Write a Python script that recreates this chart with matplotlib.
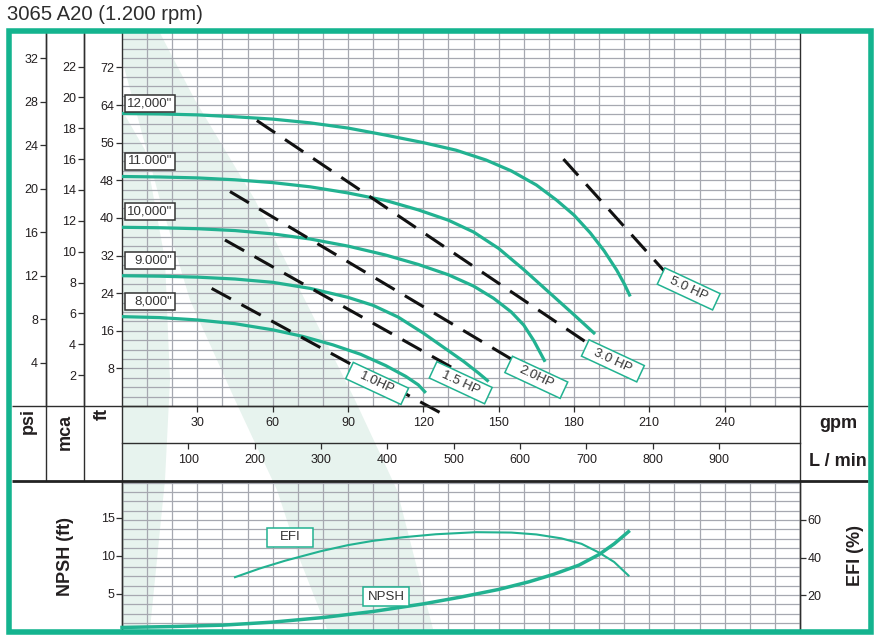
import numpy as np
import matplotlib
matplotlib.use("Agg")
import matplotlib.pyplot as plt
from matplotlib.patches import Rectangle, Polygon
from matplotlib.transforms import Affine2D, ScaledTranslation

plt.rcParams['font.family'] = ['Liberation Sans', 'DejaVu Sans']

# =========================
# data
# =========================
# head curves per impeller diameter: flow (gpm) / head (ft)
q_12 = [0, 15, 30, 45, 60, 75, 90, 105, 120, 133, 145, 155, 165, 173, 180, 186.5, 192, 197, 200, 202.4]
h_12 = [62.2, 62.1, 61.9, 61.5, 61.0, 60.2, 59.1, 57.6, 56.0, 54.4, 52.3, 50.0, 47.0, 43.8, 40.6,
        36.8, 33.0, 28.9, 26.0, 23.3]
q_11 = [0, 15, 30, 45, 60, 75, 90, 105, 118, 130, 140, 150, 160, 170, 180, 188.4]
h_11 = [48.8, 48.7, 48.5, 48.1, 47.5, 46.6, 45.3, 43.7, 41.7, 39.5, 37.0, 33.5, 29.0, 24.2, 19.4, 15.3]
q_10 = [0, 15, 30, 45, 60, 75, 90, 105, 118, 130, 140, 148, 155, 160, 164, 168.5]
h_10 = [38.0, 37.9, 37.7, 37.3, 36.6, 35.5, 34.0, 32.1, 30.1, 27.9, 25.5, 22.9, 20.0, 17.2, 13.9, 9.4]
q_9 = [0, 15, 30, 45, 60, 75, 90, 100, 110, 120, 128, 136, 142, 146]
h_9 = [27.7, 27.6, 27.4, 27.0, 26.3, 25.0, 23.1, 21.4, 18.9, 15.5, 12.5, 9.5, 7.0, 5.2]
q_8 = [0, 15, 30, 45, 60, 72, 84, 95, 105, 113, 118, 121]
h_8 = [19.0, 18.8, 18.3, 17.5, 16.2, 14.8, 13.0, 11.0, 8.6, 6.3, 4.5, 2.8]

diam_flows = [q_12, q_11, q_10, q_9, q_8]
diam_heads = [h_12, h_11, h_10, h_9, h_8]
diam_labels = ['12,000"', '11.000"', '10,000"', '9.000"', '8,000"']

# power lines (straight, dashed)
hp_labels = ['1.0HP', '1.5 HP', '2.0HP', '3.0 HP', '5.0 HP']
hp_q_start = [35.7, 41.0, 43.0, 53.7, 175.8]
hp_h_start = [25.0, 35.3, 45.6, 60.7, 52.5]
hp_q_end = [127.0, 132.0, 160.0, 192.0, 221.0]
hp_h_end = [-1.5, 8.0, 8.4, 11.0, 25.7]

# efficiency (%) and NPSH (ft)
q_efi = [45, 55, 65, 79, 90, 100, 112, 125, 141, 155, 165, 175, 183, 190, 196, 201.7]
efi = [29.5, 34.2, 38.3, 43.3, 46.6, 48.9, 50.8, 52.4, 53.5, 53.3, 52.3, 50.2, 47.3, 42.6, 37.6, 30.4]
q_npsh = [0, 20, 40, 60, 80, 100, 120, 135, 150, 162, 172, 182, 190, 196, 201.7]
npsh = [0.6, 0.72, 0.9, 1.3, 1.9, 2.7, 3.7, 4.6, 5.6, 6.6, 7.6, 8.8, 10.2, 11.6, 13.2]

gpm_ticks = [30, 60, 90, 120, 150, 180, 210, 240]
lpm_ticks = [100, 200, 300, 400, 500, 600, 700, 800, 900]
ft_ticks = [8, 16, 24, 32, 40, 48, 56, 64, 72]
psi_ticks = [4, 8, 12, 16, 20, 24, 28, 32]
mca_ticks = [2, 4, 6, 8, 10, 12, 14, 16, 18, 20, 22]
npsh_ticks = [5, 10, 15]
efi_ticks = [20, 40, 60]

# =========================
# layout (pixels) and styles
# =========================
W, H = 881, 640
X0, X1 = 122, 800
Y_TOP, Y_HEAD0, Y_LPM, Y_SPLIT, Y_BOT = 31, 406, 443, 481, 631
PX_GPM, PX_FT = 2.511, 4.703
NPSH0_PX, PX_NPSH = 632.0, 7.6
EFI0_PX, PX_EFI = 632.5, 1.875

TEAL = '#22b291'
FRAME = '#14b48f'
GRID = '#a6a8b0'
DARK = '#2e2e2e'
TXT = '#231f20'
WASH = '#e7f3ee'

fig = plt.figure(figsize=(W / 100, H / 100), dpi=100)
fig.patch.set_facecolor('white')


def frac_box(left, top, right, bottom):
    return [left / W, 1 - bottom / H, (right - left) / W, (bottom - top) / H]


def label_box(ax, x, y, text, w, h, angle, ec, fs=9.5, trans=None):
    base = ax.transData if trans is None else trans
    tr = Affine2D().rotate_deg(angle) + ScaledTranslation(x, y, base)
    ax.add_patch(Rectangle((-w / 2, -h / 2), w, h, transform=tr, fc='white',
                           ec=ec, lw=1.1, zorder=8, clip_on=False))
    ax.text(x, y, text, transform=base, rotation=angle, rotation_mode='anchor',
            ha='center', va='center', fontsize=fs, color='#333333', zorder=9)


# background wash (decoration)
bg = fig.add_axes([0, 0, 1, 1], zorder=0)
bg.set_xlim(0, W)
bg.set_ylim(H, 0)
bg.axis('off')
band_a = [(160, 33), (195, 100), (255, 200), (305, 300), (355, 400), (397, 490), (415, 560),
          (433, 629), (327, 629), (300, 560), (277, 490), (235, 400), (190, 300), (160, 200),
          (133, 100), (122, 60), (122, 33)]
band_b = [(122, 110), (145, 150), (165, 260), (170, 380), (165, 480), (150, 629), (122, 629)]
for band in (band_a, band_b):
    bg.add_patch(Polygon(band, closed=True, fc=WASH, ec='none'))

# =========================
# head chart
# =========================
ax = fig.add_axes(frac_box(X0, Y_TOP, X1, Y_HEAD0), zorder=2)
ax.set_facecolor('none')
ax.set_xlim(0, (X1 - X0) / PX_GPM)
ax.set_ylim(0, (Y_HEAD0 - Y_TOP) / PX_FT)

for q in np.arange(10, 270, 10):
    ax.axvline(q, color=GRID, lw=0.9, zorder=1)
for hh in np.arange(2, 80, 2):
    ax.axhline(hh, color=GRID, lw=0.9, zorder=1)

for q, hh in zip(diam_flows, diam_heads):
    ax.plot(q, hh, color=TEAL, lw=2.3, solid_capstyle='butt', solid_joinstyle='round', zorder=4)

for qs, hs, qe, he in zip(hp_q_start, hp_h_start, hp_q_end, hp_h_end):
    ax.plot([qs, qe], [hs, he], color='#111111', lw=2.2, dashes=(7.2, 3.9),
            zorder=5, clip_on=False)

# diameter labels (fixed width boxes near the y axis)
lift = [2.1, 3.2, 3.4, 3.2, 3.2]
for hh, lab, dl in zip(diam_heads, diam_labels, lift):
    label_box(ax, 11.2, hh[0] + dl, '', 50, 17, 0, '#333333')
    ax.annotate(lab, xy=(11.2, hh[0] + dl), xytext=(22, 0), textcoords='offset pixels',
                ha='right', va='center', fontsize=9.5, color='#333333', zorder=9)

# power labels
hp_lab_q = [101.6, 134.9, 165.0, 195.5, 225.7]
hp_lab_h = [4.8, 4.95, 6.1, 9.6, 24.9]
for lab, lq, lh in zip(hp_labels, hp_lab_q, hp_lab_h):
    label_box(ax, lq, lh, lab, 61, 18, -25, TEAL)

ax.set_xticks(gpm_ticks)
ax.set_yticks(ft_ticks)
ax.tick_params(axis='x', direction='out', length=4.3, width=0.9, color=DARK,
               labelsize=9, labelcolor=TXT, pad=3.5)
ax.tick_params(axis='y', direction='out', length=4.3, width=0.9, color=DARK,
               labelsize=9, labelcolor=TXT, pad=1.5)
for side in ('left', 'right', 'bottom'):
    ax.spines[side].set_color(DARK)
    ax.spines[side].set_linewidth(1.0)
ax.spines['top'].set_visible(False)

span = (Y_HEAD0 - Y_TOP)
psi = ax.secondary_yaxis((46 - X0) / (X1 - X0), functions=(lambda f: f / 2.31, lambda p: p * 2.31))
mca = ax.secondary_yaxis((84 - X0) / (X1 - X0), functions=(lambda f: f / 3.281, lambda m: m * 3.281))
psi.set_yticks(psi_ticks)
mca.set_yticks(mca_ticks)
lpm = ax.secondary_xaxis((Y_HEAD0 - Y_LPM) / span, functions=(lambda g: g * 3.785, lambda l: l / 3.785))
lpm.set_xticks(lpm_ticks)
for sec in (psi, mca, lpm):
    sec.tick_params(direction='out', length=4.3, width=0.9, color=DARK,
                    labelsize=9, labelcolor=TXT, pad=1.5 if sec is not lpm else 3.5)
    for sp in sec.spines.values():
        sp.set_color(DARK)
        sp.set_linewidth(1.0)

# =========================
# NPSH / efficiency chart
# =========================
ax2 = fig.add_axes(frac_box(X0, Y_SPLIT, X1, Y_BOT), zorder=2)
ax2.set_facecolor('none')
ax2.set_xlim(0, (X1 - X0) / PX_GPM)
ax2.set_ylim((NPSH0_PX - Y_BOT) / PX_NPSH, (NPSH0_PX - Y_SPLIT) / PX_NPSH)
ax3 = ax2.twinx()
ax3.set_xlim(ax2.get_xlim())
ax3.set_ylim((EFI0_PX - Y_BOT) / PX_EFI, (EFI0_PX - Y_SPLIT) / PX_EFI)

for q in np.arange(10, 270, 10):
    ax3.axvline(q, color=GRID, lw=0.9, zorder=1)
for e in np.arange(5, 81, 5):
    ax3.axhline(e, color=GRID, lw=0.9, zorder=1)

ax3.plot(q_efi, efi, color=TEAL, lw=1.5, solid_joinstyle='round', zorder=4)
ax3.plot(q_npsh, npsh, color=TEAL, lw=2.5, solid_joinstyle='round', zorder=4,
         transform=ax2.transData, clip_on=False)
label_box(ax3, 66.9, 50.9, 'EFI', 46, 19, 0, TEAL)
label_box(ax3, 105.3, 4.67, 'NPSH', 46, 19, 0, TEAL, trans=ax2.transData)

ax2.set_yticks(npsh_ticks)
ax2.tick_params(axis='y', direction='out', length=4.3, width=0.9, color=DARK,
                labelsize=9, labelcolor=TXT, pad=1.0)
ax2.tick_params(axis='x', bottom=False, labelbottom=False)
ax3.set_yticks(efi_ticks)
ax3.tick_params(axis='y', direction='out', length=4.3, width=0.9, color=DARK,
                labelsize=9, labelcolor=TXT, pad=1.0)
for a in (ax2, ax3):
    a.spines['top'].set_visible(False)
    a.spines['bottom'].set_visible(False)
    for side in ('left', 'right'):
        a.spines[side].set_color(DARK)
        a.spines[side].set_linewidth(1.0)

# =========================
# frame, separators, labels
# =========================
ov = fig.add_axes([0, 0, 1, 1], zorder=6)
ov.set_xlim(0, W)
ov.set_ylim(H, 0)
ov.axis('off')

seg = dict(color=DARK, lw=1.0, solid_capstyle='butt')
ov.plot([46, 46], [33, Y_SPLIT], **seg)
ov.plot([84, 84], [33, Y_SPLIT], **seg)
ov.plot([X0, X0], [Y_HEAD0, Y_SPLIT], **seg)
ov.plot([X1, X1], [Y_HEAD0, Y_SPLIT], **seg)
ov.plot([12, 868], [Y_HEAD0, Y_HEAD0], **seg)
ov.plot([12, 868], [Y_SPLIT, Y_SPLIT], color='#222222', lw=2.0, solid_capstyle='butt')
ov.add_patch(Rectangle((9, 30.5), 862, 601.5, fill=False, ec=FRAME, lw=4.0, zorder=10))

bold = dict(fontsize=13, fontweight='bold', color=TXT)
ov.text(28, 408, 'psi', rotation=90, ha='center', va='top', **bold)
ov.text(65, 414, 'mca', rotation=90, ha='center', va='top', **bold)
ov.text(102, 408, 'ft', rotation=90, ha='center', va='top', **bold)
ov.text(838, 423, 'gpm', ha='center', va='center', **bold)
ov.text(838, 462, 'L / min', ha='center', va='center', **bold)
ov.text(65, 557, 'NPSH (ft)', rotation=90, ha='center', va='center', **bold)
ov.text(855, 556, 'EFI (%)', rotation=90, ha='center', va='center', **bold)

fig.text(7 / W, 1 - 19.5 / H, '3065 A20 (1.200 rpm)', fontsize=14.6, color='#2d2d2d',
         va='baseline', ha='left')

fig.savefig('out.png', dpi=100)
